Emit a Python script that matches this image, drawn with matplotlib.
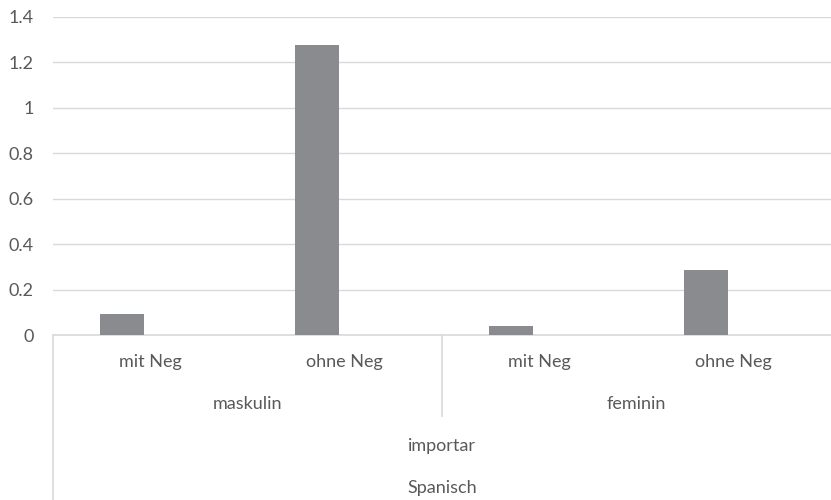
import matplotlib.pyplot as plt
import matplotlib.transforms as mtransforms
from matplotlib.lines import Line2D

# Daten
negation = ["mit Neg", "ohne Neg", "mit Neg", "ohne Neg"]
genus = ["maskulin", "feminin"]
verb = "importar"
sprache = "Spanisch"
werte = [0.092, 1.275, 0.04, 0.285]
y_ticks = [0, 0.2, 0.4, 0.6, 0.8, 1.0, 1.2, 1.4]
y_labels = ["0", "0.2", "0.4", "0.6", "0.8", "1", "1.2", "1.4"]

plt.rcParams['font.family'] = ['Lato', 'DejaVu Sans']
text_farbe = "#595959"
linien_farbe = "#D9D9D9"
balken_farbe = "#8A8B8E"
fs = 13

W, H = 831, 500
fig = plt.figure(figsize=(W / 100, H / 100), dpi=100)
ax_left, ax_right, ax_top, ax_bottom = 53, 831, 16.7, 335
ax = fig.add_axes([ax_left / W, (H - ax_bottom) / H,
                   (ax_right - ax_left) / W, (ax_bottom - ax_top) / H])

n = len(werte)
cat_w = (ax_right - ax_left) / n  # pixel je Kategorie
pos = [i + 0.5 - 28 / cat_w for i in range(n)]
ax.bar(pos, werte, width=44 / cat_w, color=balken_farbe, zorder=3)

ax.set_xlim(0, n)
ax.set_ylim(0, 1.4)
ax.set_yticks(y_ticks)
ax.set_yticklabels(y_labels)
ax.grid(axis="y", color=linien_farbe, linewidth=1, zorder=0)
ax.set_xticks([])
for s in ["top", "right", "left"]:
    ax.spines[s].set_visible(False)
ax.spines["bottom"].set_color(linien_farbe)
ax.spines["bottom"].set_linewidth(1.2)
ax.tick_params(axis="y", length=0, pad=14, labelsize=fs, labelcolor=text_farbe)

# mehrstufige Kategorieachse
trans = mtransforms.blended_transform_factory(ax.transData, fig.transFigure)
fy = lambda y: (H - y) / H

for i, lab in enumerate(negation):
    ax.text(i + 0.5, fy(362), lab, transform=trans, ha="center", va="center",
            fontsize=fs, color=text_farbe)
for j, lab in enumerate(genus):
    ax.text(2 * j + 1, fy(404), lab, transform=trans, ha="center", va="center",
            fontsize=fs, color=text_farbe)
ax.text(n / 2, fy(446), verb, transform=trans, ha="center", va="center",
        fontsize=fs, color=text_farbe)
ax.text(n / 2, fy(488), sprache, transform=trans, ha="center", va="center",
        fontsize=fs, color=text_farbe)

ax.add_line(Line2D([0, 0], [fy(335), fy(500)], transform=trans,
                   color=linien_farbe, linewidth=1.2, clip_on=False))
ax.add_line(Line2D([2, 2], [fy(335), fy(416)], transform=trans,
                   color=linien_farbe, linewidth=1.2, clip_on=False))

fig.savefig("out.png", dpi=100)
